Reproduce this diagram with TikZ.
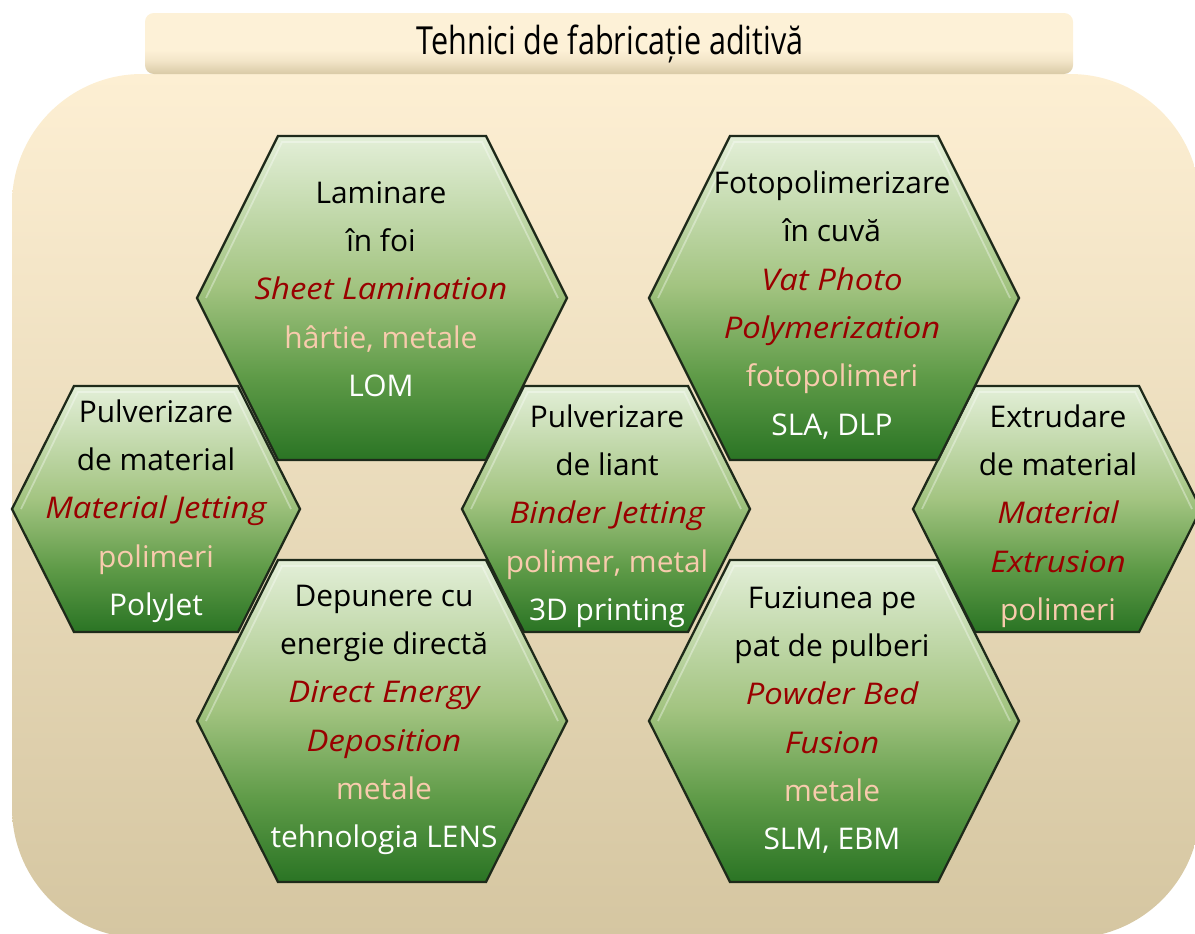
\documentclass[tikz,border=0pt]{standalone}
\usepackage{fontspec}
\setmainfont{Open Sans}
\newfontfamily\titlefont[FakeStretch=0.79]{Open Sans}
\newfontfamily\enfont[FakeStretch=1.1]{Open Sans}

\definecolor{hexA}{HTML}{E3EFD8}
\definecolor{hexB}{HTML}{A3C481}
\definecolor{hexC}{HTML}{5F9B48}
\definecolor{hexD}{HTML}{2A7424}
\definecolor{hexline}{HTML}{1E2A1A}
\definecolor{bgtop}{HTML}{FDEFD3}
\definecolor{bgbot}{HTML}{D5C6A1}
\definecolor{bartop}{HTML}{FDF1D7}
\definecolor{barbot}{HTML}{D9CAA6}
\definecolor{engred}{HTML}{990000}
\definecolor{peach}{HTML}{F8CBAD}

\pgfdeclareverticalshading{hexgreen}{100bp}{color(0bp)=(hexD); color(25bp)=(hexD);
  color(38bp)=(hexC); color(52bp)=(hexB); color(75bp)=(hexA); color(100bp)=(hexA)}
\pgfdeclareverticalshading{titlebar}{100bp}{color(0bp)=(barbot); color(25bp)=(barbot);
  color(36bp)=(bartop!70!barbot); color(45bp)=(bartop); color(100bp)=(bartop)}

\newcommand{\hxen}[1]{\textcolor{engred}{\enfont\itshape #1}}
\newcommand{\hxmat}[1]{\textcolor{peach}{#1}}
\newcommand{\hxtec}[1]{\textcolor{white}{#1}}

\begin{document}
\begin{tikzpicture}[x=0.02cm,y=-0.02cm,
    hexcell/.style={draw=hexline,line width=1.3pt,shading=hexgreen},
    bevel/.style={draw=white,opacity=0.35,line width=1pt},
    txt/.style={align=center,font=\fontsize{17}{27.5}\selectfont},
    every node/.style={inner sep=0pt}]
  \useasboundingbox (0,0) rectangle (1195,933);
  \clip (0,0) rectangle (1195,933);
  % background panel and title bar
  \shade[top color=bgtop,bottom color=bgbot,rounded corners=2.6cm]
    (12,74) rectangle (1200,938);
  \shade[shading=titlebar,rounded corners=5pt] (145,13) rectangle (1073,74);
  \node[font=\titlefont\fontsize{22}{26}\selectfont] (titlu) at (610,44)
    {Tehnici de fabricație aditivă};
  % hexagons: name/x/y/half width/half top/half height
  \foreach \n/\x/\y/\w/\t/\h in {jet/156/509/144/82/123, liant/606/509/144/82/123,
      extr/1057/509/144/82/123, lam/382/298/185/104/162, foto/834/298/185/104/162,
      dep/382/721/185/104/161, fuz/834/721/185/104/161}{
    \path[hexcell] (\x-\w,\y) -- (\x-\t,\y-\h) -- (\x+\t,\y-\h) -- (\x+\w,\y)
      -- (\x+\t,\y+\h) -- (\x-\t,\y+\h) -- cycle;
    \draw[bevel] (\x-\w+9,\y) -- (\x-\t+4,\y-\h+6) -- (\x+\t-4,\y-\h+6) -- (\x+\w-9,\y);
  }
  % texts
  \node[txt] (lam) at (381,289)
    {Laminare\\ în foi\\ \hxen{Sheet Lamination}\\ \hxmat{hârtie, metale}\\ \hxtec{LOM}};
  \node[txt] (foto) at (832,305)
    {Fotopolimerizare\\ în cuvă\\ \hxen{Vat Photo}\\ \hxen{Polymerization}\\
     \hxmat{fotopolimeri}\\ \hxtec{SLA, DLP}};
  \node[txt] (jet) at (156,511)
    {Pulverizare\\ de material\\ \hxen{Material Jetting}\\ \hxmat{polimeri}\\ \hxtec{PolyJet}};
  \node[txt] (liant) at (607,516)
    {Pulverizare\\ de liant\\ \hxen{Binder Jetting}\\ \hxmat{polimer, metal}\\
     \hxtec{3D printing}};
  \node[txt] (extr) at (1058,516)
    {Extrudare\\ de material\\ \hxen{Material}\\ \hxen{Extrusion}\\ \hxmat{polimeri}};
  \node[txt] (dep) at (384,720)
    {Depunere cu\\ energie directă\\ \hxen{Direct Energy}\\ \hxen{Deposition}\\
     \hxmat{metale}\\ \hxtec{tehnologia LENS}};
  \node[txt] (fuz) at (832,720)
    {Fuziunea pe\\ pat de pulberi\\ \hxen{Powder Bed}\\ \hxen{Fusion}\\
     \hxmat{metale}\\ \hxtec{SLM, EBM}};
\end{tikzpicture}
\end{document}
